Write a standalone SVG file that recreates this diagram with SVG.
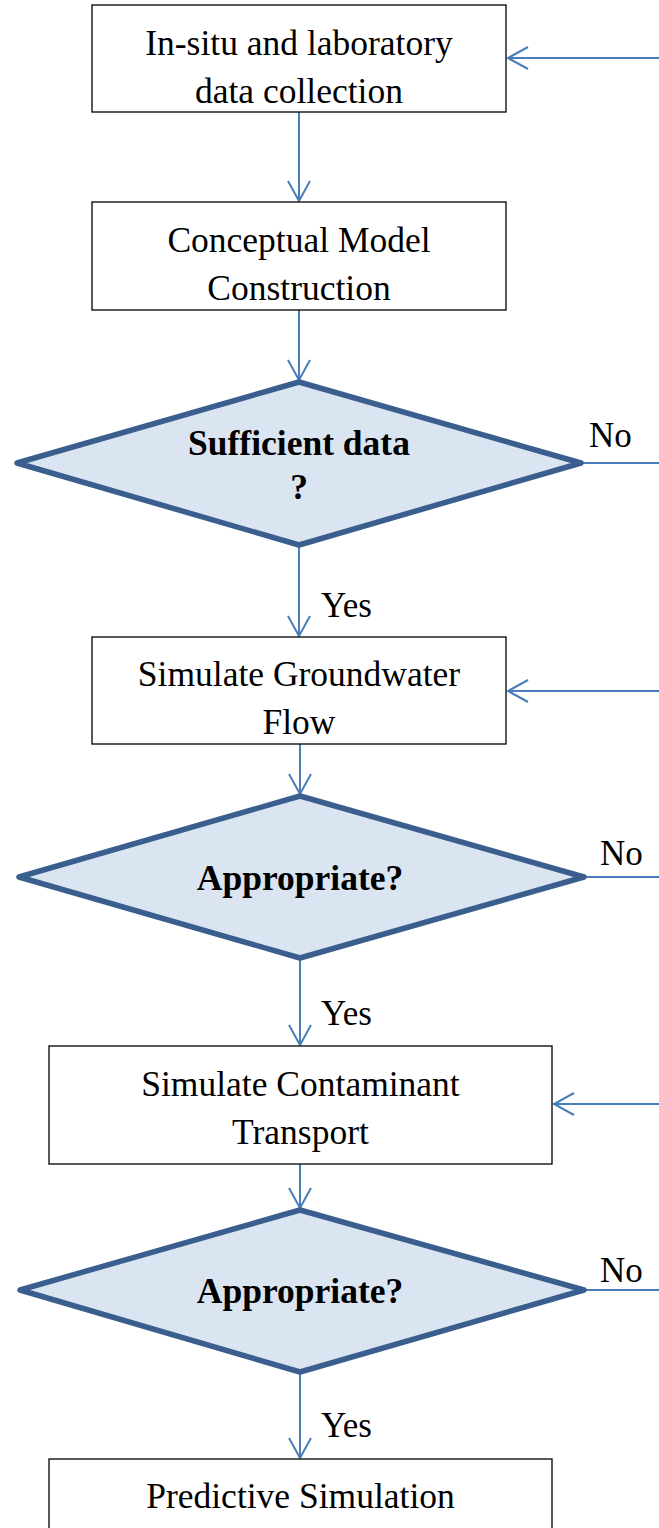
<svg xmlns="http://www.w3.org/2000/svg" width="659" height="1528" viewBox="0 0 659 1528">
<style>
.box{fill:#fff;stroke:#000;stroke-width:1.3}
.dia{fill:#dbe5f1;stroke:#3a5f8f;stroke-width:5.5;stroke-linejoin:round}
.t{font-family:"Liberation Serif","Times New Roman",serif;font-size:35.5px;fill:#000;text-anchor:middle}
.b{font-weight:bold}
.lbl{font-family:"Liberation Serif","Times New Roman",serif;font-size:35px;fill:#000}
.c{fill:none;stroke:#4a7ebb;stroke-width:2}
</style>
<defs>
<marker id="arr" markerUnits="userSpaceOnUse" viewBox="-22 -13 24 26" markerWidth="24" markerHeight="26" refX="0" refY="0" orient="auto">
<path d="M-20 -11 L0 0 L-20 11" fill="none" stroke="#4a7ebb" stroke-width="2"/>
</marker>
</defs>
<g id="connectors">
<path class="c" d="M299 112 V201" marker-end="url(#arr)"/>
<path class="c" d="M299 310 V380" marker-end="url(#arr)"/>
<path class="c" d="M299 545 V636" marker-end="url(#arr)"/>
<path class="c" d="M300 744 V794" marker-end="url(#arr)"/>
<path class="c" d="M300 958 V1045" marker-end="url(#arr)"/>
<path class="c" d="M300 1164 V1208" marker-end="url(#arr)"/>
<path class="c" d="M300 1372 V1458" marker-end="url(#arr)"/>
<path class="c" d="M581 463 H680 V58 H508" marker-end="url(#arr)"/>
<path class="c" d="M584 877 H700 V691 H508" marker-end="url(#arr)"/>
<path class="c" d="M584 1290 H720 V1104 H554" marker-end="url(#arr)"/>
</g>
<g id="n1"><rect class="box" x="92" y="5" width="414" height="107"/>
<text class="t" x="299" y="55">In-situ and laboratory</text><text class="t" x="299" y="103">data collection</text></g>
<g id="n2"><rect class="box" x="92" y="202" width="414" height="108"/>
<text class="t" x="299" y="252">Conceptual Model</text><text class="t" x="299" y="300">Construction</text></g>
<g id="d1"><polygon class="dia" points="17,463 299,382 581,463 299,545"/>
<text class="t b" x="299" y="455">Sufficient data</text><text class="t b" x="299" y="499">?</text></g>
<g id="n3"><rect class="box" x="92" y="637" width="414" height="107"/>
<text class="t" x="299" y="686">Simulate Groundwater</text><text class="t" x="299" y="734">Flow</text></g>
<g id="d2"><polygon class="dia" points="19,877 300,796 584,877 300,958"/>
<text class="t b" x="300" y="890">Appropriate?</text></g>
<g id="n4"><rect class="box" x="49" y="1046" width="503" height="118"/>
<text class="t" x="300.5" y="1096">Simulate Contaminant</text><text class="t" x="300.5" y="1144">Transport</text></g>
<g id="d3"><polygon class="dia" points="20,1290 300,1210 584,1290 300,1372"/>
<text class="t b" x="300" y="1303">Appropriate?</text></g>
<g id="n5"><rect class="box" x="49" y="1459" width="503" height="90"/>
<text class="t" x="300.5" y="1508">Predictive Simulation</text></g>
<g id="labels">
<text class="lbl" x="589" y="447">No</text>
<text class="lbl" x="600" y="865">No</text>
<text class="lbl" x="600" y="1282">No</text>
<text class="lbl" x="321" y="617">Yes</text>
<text class="lbl" x="321" y="1025">Yes</text>
<text class="lbl" x="321" y="1437">Yes</text>
</g>
</svg>
